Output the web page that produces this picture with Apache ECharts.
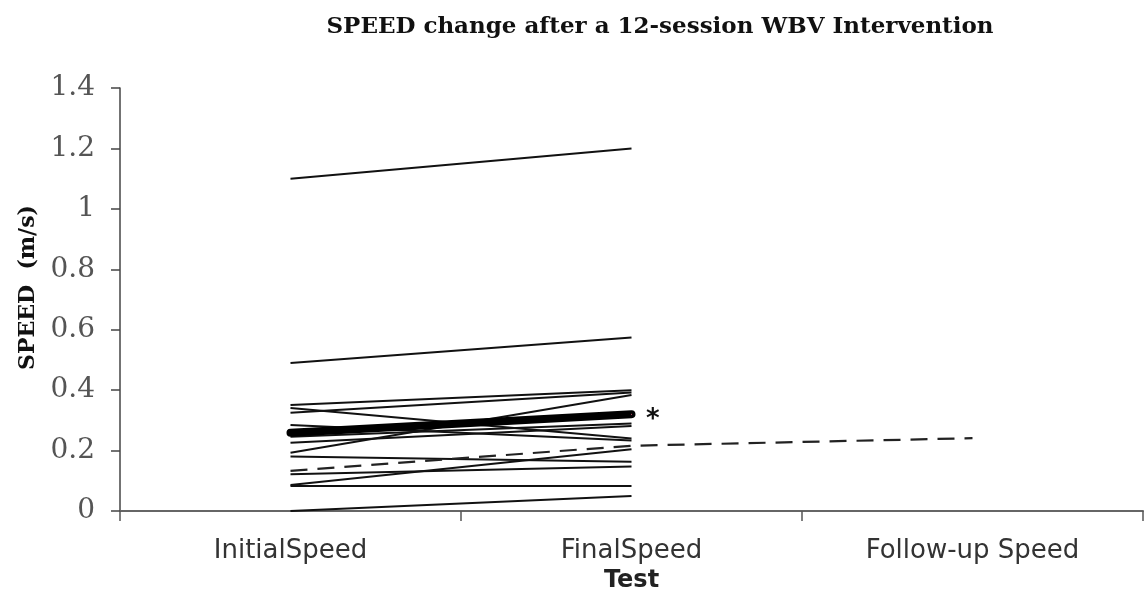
<!DOCTYPE html>
<html>
<head>
<meta charset="utf-8">
<script src="https://cdn.jsdelivr.net/npm/echarts@6/dist/echarts.min.js"></script>
<style>html,body{margin:0;padding:0;background:#fff}#c{width:1147px;height:593px}</style>
</head>
<body>
<div id="c"></div>
<script>
const categories = ['InitialSpeed', 'FinalSpeed', 'Follow-up Speed'];
const initialSpeed = [1.10, 0.49, 0.351, 0.341, 0.325, 0.285, 0.246, 0.226, 0.193, 0.18, 0.122, 0.086, 0.083, 0.0];
const finalSpeed   = [1.20, 0.574, 0.40, 0.24, 0.392, 0.233, 0.29, 0.281, 0.384, 0.163, 0.147, 0.204, 0.083, 0.05];
const meanSpeed = [0.259, 0.32, null];
const controlSpeed = [0.133, 0.216, 0.241];
const yTicks = [0, 0.2, 0.4, 0.6, 0.8, 1.0, 1.2, 1.4];

const series = initialSpeed.map((v, i) => ({
  type: 'line', data: [v, finalSpeed[i], null], symbol: 'none', silent: true,
  lineStyle: { color: '#111', width: 2 }
}));
series.push({
  type: 'line', data: controlSpeed, symbol: 'none', silent: true,
  lineStyle: { color: '#222', width: 2.2, type: [17, 10] }
});
series.push({
  type: 'line', symbol: 'none', silent: true,
  data: meanSpeed.map((v, i) => i === 1 ? { value: v, symbol: 'circle', symbolSize: 1,
    label: { show: true, position: 'right', formatter: '*', distance: 14, fontSize: 26, fontWeight: 'bold', fontFamily: 'DejaVu Sans', color: '#111', offset: [0, 6] } } : v),
  lineStyle: { color: '#000', width: 8, cap: 'round' }
});

const chart = echarts.init(document.getElementById('c'));
chart.setOption({
  animation: false,
  backgroundColor: '#fff',
  title: {
    text: 'SPEED change after a 12-session WBV Intervention',
    left: 655, top: 11, textAlign: 'center',
    textStyle: { fontFamily: 'DejaVu Serif', fontWeight: 'bold', fontSize: 23, color: '#111' }
  },
  grid: { left: 120, right: 4, top: 88, bottom: 82, outerBoundsMode: 'none', containLabel: false },
  xAxis: {
    type: 'category', data: categories, boundaryGap: true,
    name: 'Test', nameLocation: 'middle', nameGap: 56,
    nameTextStyle: { fontFamily: 'DejaVu Sans', fontWeight: 'bold', fontSize: 24, color: '#222' },
    axisLine: { lineStyle: { color: '#666', width: 2 } },
    axisTick: { show: true, length: 10, lineStyle: { color: '#555', width: 1.5 } },
    axisLabel: { margin: 27, fontFamily: 'DejaVu Sans', fontSize: 26, color: '#333' }
  },
  yAxis: {
    type: 'value', min: 0, max: 1.4, interval: 0.2,
    name: 'SPEED  (m/s)', nameLocation: 'middle', nameGap: 80, nameRotate: 90,
    nameTextStyle: { fontFamily: 'DejaVu Serif', fontWeight: 'bold', fontSize: 22, color: '#111', padding: [0, 0, 0, 24] },
    axisLine: { show: true, lineStyle: { color: '#444', width: 1.5 } },
    axisTick: { show: true, length: 9, lineStyle: { color: '#444', width: 1.5 } },
    splitLine: { show: false },
    axisLabel: {
      margin: 25, fontFamily: 'DejaVu Serif', fontSize: 28, color: '#555',
      formatter: v => { const t = yTicks.find(x => Math.abs(x - v) < 1e-9); return t === undefined ? '' : String(+t.toFixed(1)); }
    }
  },
  series: series
});
</script>
</body>
</html>
